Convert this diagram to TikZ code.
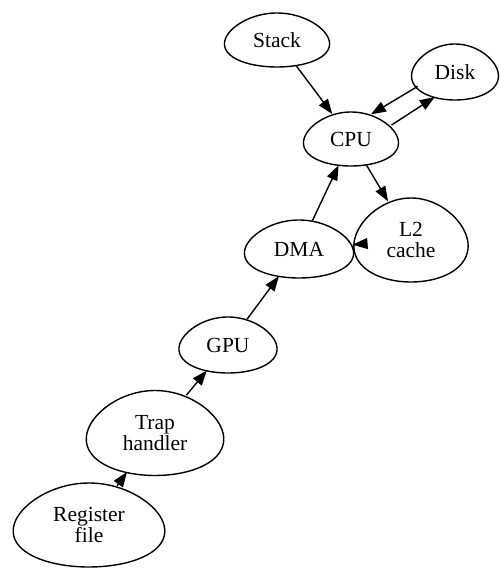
\documentclass[tikz,border=0pt]{standalone}
\usepackage{fontspec}
\setmainfont{Liberation Serif}
\usetikzlibrary{shapes.geometric,arrows.meta}
\begin{document}
\begin{tikzpicture}[x=1pt,y=-1pt,
  eggnode/.style={ellipse, inner sep=0pt, font=\fontsize{21.5}{21.7}\selectfont, align=center},
  edge/.style={line width=1.4pt, -{Triangle[length=15pt,width=11pt]}},
  eggline/.style={line width=1.4pt}]
\useasboundingbox (0,0) rectangle (500,570);
\node[eggnode, minimum width=104pt, minimum height=54pt] (stack) at (277,40) {Stack};
\node[eggnode, minimum width=86pt, minimum height=56pt] (disk) at (455,72) {Disk};
\node[eggnode, minimum width=94pt, minimum height=54pt] (cpu) at (351,139) {CPU};
\node[eggnode, minimum width=113pt, minimum height=84pt] (l2) at (411,240) {L2\\cache};
\node[eggnode, minimum width=108pt, minimum height=58pt] (dma) at (299,249) {DMA};
\node[eggnode, minimum width=97pt, minimum height=56pt] (gpu) at (228,345) {GPU};
\node[eggnode, minimum width=136pt, minimum height=85pt] (trap) at (155,433) {Trap\\handler};
\node[eggnode, minimum width=150pt, minimum height=84pt] (reg) at (89,525) {Register\\file};
\foreach \n/\a/\b in {stack/52/27, disk/43/28, cpu/47/27, l2/56.5/42, dma/54/29, gpu/48.5/28, trap/68/42.5, reg/75/42}
  \draw[eggline, shift={(\n.center)}] plot[domain=0:360, samples=90, variable=\t] ({\a*cos(\t)*(1+0.15*sin(\t))},{\b*sin(\t)}) -- cycle;
\draw[edge] (stack) -- (cpu);
\draw[edge] (disk.201) -- (cpu.51);
\draw[edge] (cpu.19) -- (disk.231);
\draw[edge] (cpu) -- (l2);
\draw[edge] (l2) -- (dma);
\draw[edge] (dma) -- (cpu);
\draw[edge] (gpu) -- (dma);
\draw[edge] (trap) -- (gpu);
\draw[edge] (reg) -- (trap);
\end{tikzpicture}
\end{document}
